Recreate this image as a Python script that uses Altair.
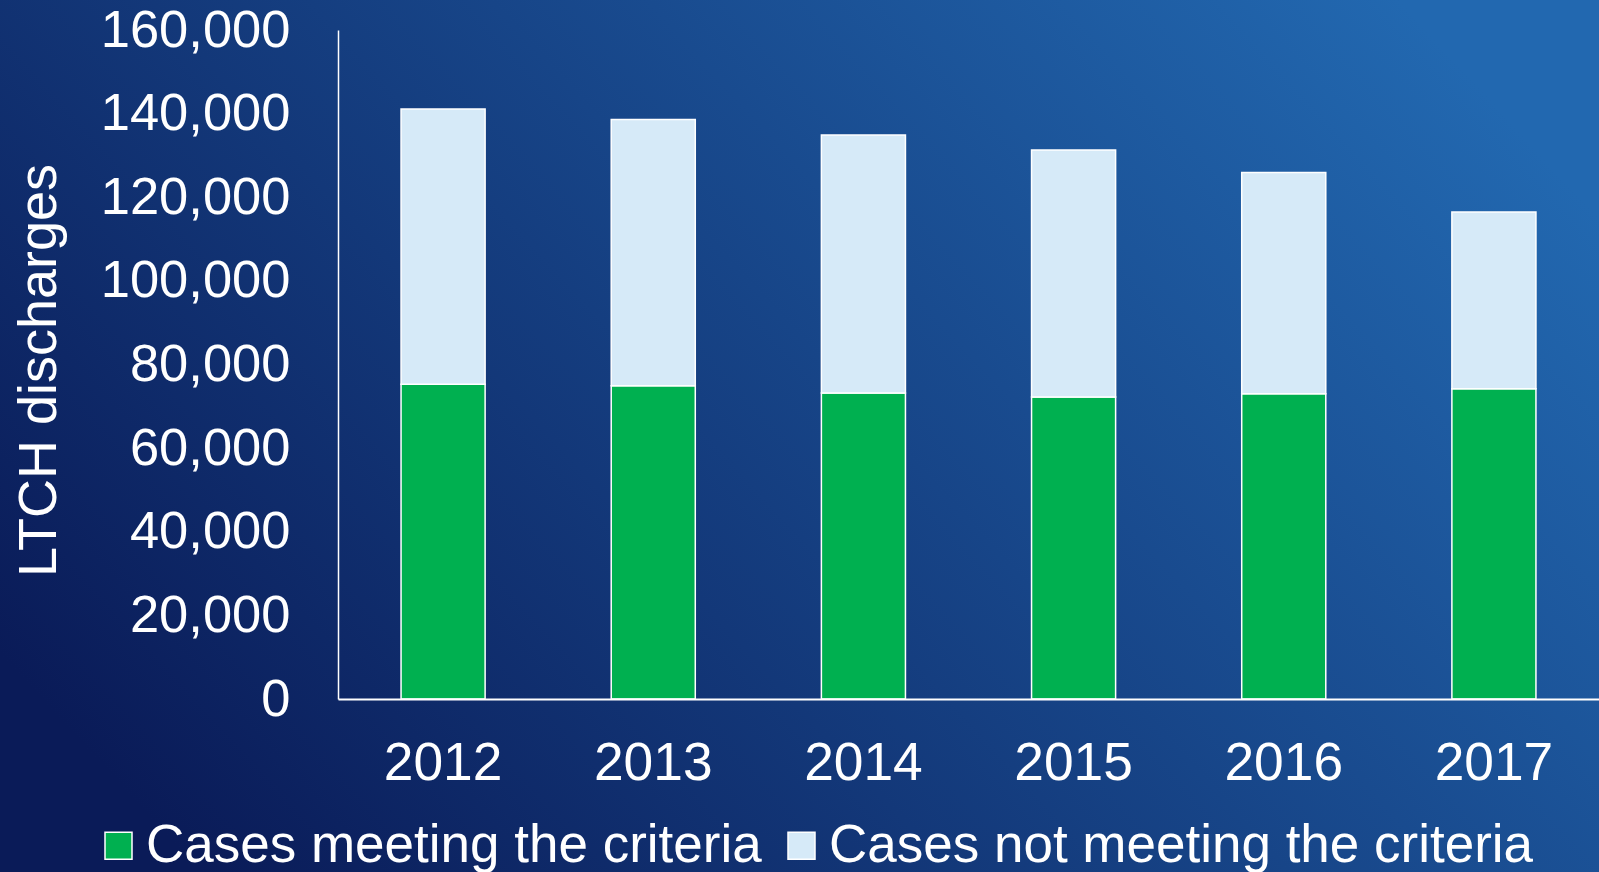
import altair as alt
import pandas as pd

years = ["2012", "2013", "2014", "2015", "2016", "2017"]
meeting = [75300, 74900, 73200, 72200, 73000, 74200]
not_meeting = [65800, 63700, 61700, 59100, 52900, 42300]
series = ["Cases meeting the criteria", "Cases not meeting the criteria"]
colors = ["#00b050", "#d6eaf8"]
y_ticks = [0, 20000, 40000, 60000, 80000, 100000, 120000, 140000, 160000]

rows = []
for i, yr in enumerate(years):
    rows.append({"year": yr, "series": series[0], "value": meeting[i], "ord": 0})
    rows.append({"year": yr, "series": series[1], "value": not_meeting[i], "ord": 1})
df = pd.DataFrame(rows)

W, H = 1261, 669
PL, PT, PR, PB = 338, 30, 0, 173

bg = alt.Chart(alt.Data(values=[{"a": 1}])).mark_rect(
    fill=alt.LinearGradient(
        gradient="linear",
        stops=[alt.GradientStop(color="#0a1b58", offset=0),
               alt.GradientStop(color="#2268b0", offset=1)],
        x1=0, y1=0.75, x2=1, y2=0.25,
    ),
    clip=False,
).encode(
    x=alt.value(-PL), x2=alt.value(W + PR),
    y=alt.value(-PT), y2=alt.value(H + PB),
)

bars = alt.Chart(df).mark_bar(stroke="white", strokeWidth=1.5).encode(
    x=alt.X("year:N", sort=years,
            scale=alt.Scale(paddingInner=0.6, paddingOuter=0.3),
            axis=alt.Axis(title=None, labelAngle=0, labelFontSize=53.3,
                          labelColor="white", ticks=False, labelPadding=38,
                          domainColor="white", domainWidth=2, zindex=2)),
    y=alt.Y("value:Q", stack="zero",
            scale=alt.Scale(domain=[0, 160000], nice=False),
            axis=alt.Axis(title="LTCH discharges", values=y_ticks, format=",.0f",
                          labelFontSize=52.5, labelColor="white", ticks=False,
                          labelLimit=500,
                          labelPadding=48, grid=False, domainColor="white",
                          domainWidth=1.5, titleFontSize=54, titleColor="white",
                          titleFontWeight="normal", titleX=-299, titleY=340,
                          titleAngle=270, titleAlign="center",
                          titleBaseline="middle", zindex=2)),
    color=alt.Color("series:N", sort=series,
                    scale=alt.Scale(domain=series, range=colors),
                    legend=alt.Legend(title=None, orient="none",
                                      direction="horizontal",
                                      legendX=-246, legendY=789,
                                      symbolType="square", symbolSize=729,
                                      symbolStrokeColor="white",
                                      symbolStrokeWidth=1.5,
                                      symbolOpacity=1,
                                      labelFontSize=53, labelColor="white",
                                      labelLimit=1000, labelOffset=1,
                                      columnPadding=13, padding=0, zindex=2)),
    order=alt.Order("ord:Q"),
)

chart = alt.layer(bg, bars).properties(
    width=W, height=H,
    padding={"left": PL, "top": PT, "right": PR, "bottom": PB},
    autosize=alt.AutoSizeParams(type="none"),
).configure(
    font="Liberation Sans",
).configure_view(stroke=None)

chart.save("out.html", embed_options={"renderer": "svg", "actions": False})
